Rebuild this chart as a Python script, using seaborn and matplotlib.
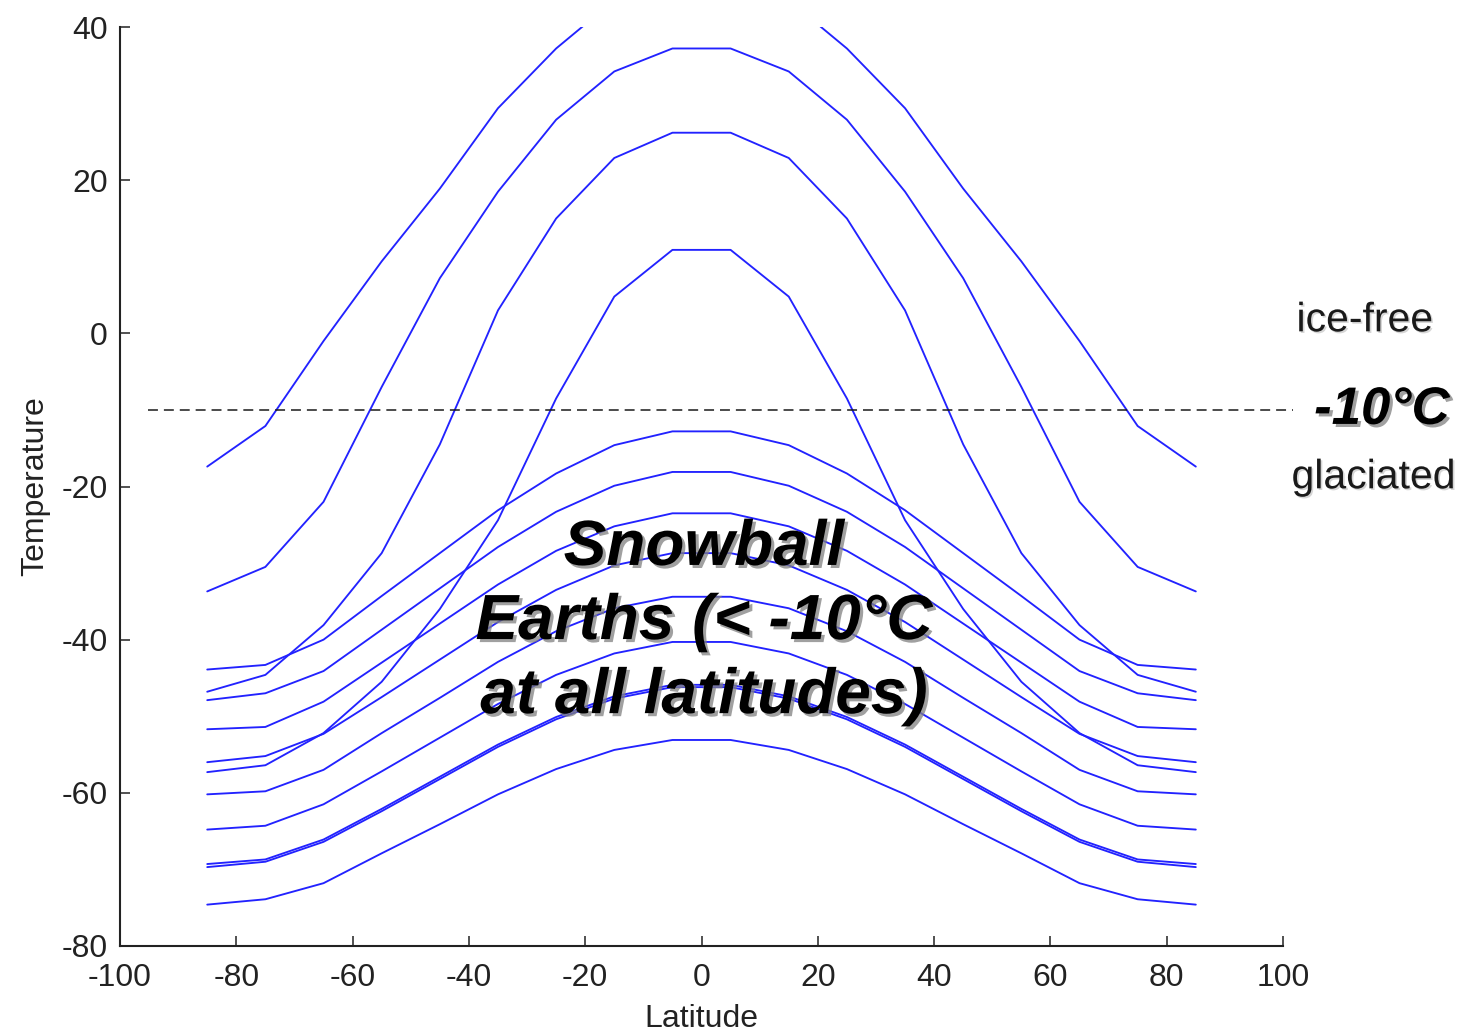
import numpy as np
import pandas as pd
import matplotlib
matplotlib.use("Agg")
import matplotlib.pyplot as plt
import matplotlib.patheffects as pe
import seaborn as sns

# Latitude grid of the energy-balance model (band centres)
latitudes = [-85, -75, -65, -55, -45, -35, -25, -15, -5,
             5, 15, 25, 35, 45, 55, 65, 75, 85]

# Equilibrium temperature profiles (deg C), one per solar forcing
warm_1 = [-17.4, -12.1, -1.0, 9.4, 18.9, 29.4, 37.2, 43.5, 46.5,
          46.5, 43.5, 37.2, 29.4, 18.9, 9.4, -1.0, -12.1, -17.4]
warm_2 = [-33.7, -30.5, -22.0, -7.0, 7.2, 18.5, 27.9, 34.2, 37.2,
          37.2, 34.2, 27.9, 18.5, 7.2, -7.0, -22.0, -30.5, -33.7]
warm_3 = [-46.8, -44.6, -38.1, -28.7, -14.5, 3.0, 15.0, 22.9, 26.2,
          26.2, 22.9, 15.0, 3.0, -14.5, -28.7, -38.1, -44.6, -46.8]
warm_4 = [-57.3, -56.4, -52.2, -45.5, -36.0, -24.4, -8.5, 4.8, 10.9,
          10.9, 4.8, -8.5, -24.4, -36.0, -45.5, -52.2, -56.4, -57.3]
snow_1 = [-43.9, -43.3, -40.0, -34.3, -28.7, -23.1, -18.3, -14.6, -12.8,
          -12.8, -14.6, -18.3, -23.1, -28.7, -34.3, -40.0, -43.3, -43.9]
snow_2 = [-47.9, -47.0, -44.1, -38.7, -33.3, -27.9, -23.3, -19.9, -18.1,
          -18.1, -19.9, -23.3, -27.9, -33.3, -38.7, -44.1, -47.0, -47.9]
snow_3 = [-51.7, -51.4, -48.1, -43.0, -37.9, -32.8, -28.4, -25.2, -23.5,
          -23.5, -25.2, -28.4, -32.8, -37.9, -43.0, -48.1, -51.4, -51.7]
snow_4 = [-56.0, -55.2, -52.3, -47.5, -42.6, -37.7, -33.5, -30.3, -28.7,
          -28.7, -30.3, -33.5, -37.7, -42.6, -47.5, -52.3, -55.2, -56.0]
snow_5 = [-60.2, -59.8, -57.0, -52.2, -47.6, -42.9, -38.9, -35.9, -34.4,
          -34.4, -35.9, -38.9, -42.9, -47.6, -52.2, -57.0, -59.8, -60.2]
snow_6 = [-64.8, -64.3, -61.5, -57.2, -52.8, -48.4, -44.6, -41.8, -40.3,
          -40.3, -41.8, -44.6, -48.4, -52.8, -57.2, -61.5, -64.3, -64.8]
snow_7 = [-69.3, -68.7, -66.1, -62.1, -57.9, -53.7, -50.1, -47.4, -45.9,
          -45.9, -47.4, -50.1, -53.7, -57.9, -62.1, -66.1, -68.7, -69.3]
snow_8 = [-69.7, -69.0, -66.4, -62.4, -58.2, -54.0, -50.4, -47.7, -46.2,
          -46.2, -47.7, -50.4, -54.0, -58.2, -62.4, -66.4, -69.0, -69.7]
snow_9 = [-74.6, -73.9, -71.8, -67.9, -64.1, -60.2, -56.9, -54.4, -53.1,
          -53.1, -54.4, -56.9, -60.2, -64.1, -67.9, -71.8, -73.9, -74.6]

profiles = {
    "warm_1": warm_1, "warm_2": warm_2, "warm_3": warm_3, "warm_4": warm_4,
    "snow_1": snow_1, "snow_2": snow_2, "snow_3": snow_3, "snow_4": snow_4,
    "snow_5": snow_5, "snow_6": snow_6, "snow_7": snow_7, "snow_8": snow_8,
    "snow_9": snow_9,
}

threshold = -10  # ice-line temperature

df = pd.concat(
    [pd.DataFrame({"Latitude": latitudes, "Temperature": temps, "run": name})
     for name, temps in profiles.items()],
    ignore_index=True,
)

sns.set_theme(style="ticks")
plt.rcParams["font.family"] = ["Liberation Sans", "DejaVu Sans"]
plt.rcParams["axes.unicode_minus"] = False

fig = plt.figure(figsize=(14.67, 10.36), dpi=100)
ax = fig.add_axes([0.0818, 0.0869, 0.7928, 0.887])

sns.lineplot(data=df, x="Latitude", y="Temperature", units="run",
             estimator=None, sort=False, color="#2222ff", linewidth=1.35,
             legend=False, ax=ax)

# ice / no-ice threshold
ax.plot([-95.2, 101.7], [threshold, threshold], color="#1a1a1a", lw=1.1,
        ls=(0, (6.5, 3.9)), clip_on=False, zorder=3)

ax.set_xlim(-100, 100)
ax.set_ylim(-80, 40)
ax.set_xticks(np.arange(-100, 101, 20))
ax.set_yticks(np.arange(-80, 41, 20))
ax.tick_params(direction="in", length=7.5, width=1.1, labelsize=23,
               color="#222222", labelcolor="#222222")
ax.tick_params(axis="x", pad=12)
ax.tick_params(axis="y", pad=9)
for side in ("top", "right"):
    ax.spines[side].set_visible(False)
for side in ("left", "bottom"):
    ax.spines[side].set_linewidth(1.5)
    ax.spines[side].set_color("#222222")

ax.set_xlabel("Latitude", fontsize=23, color="#222222", labelpad=8)
ax.set_ylabel("Temperature", fontsize=23, color="#222222", labelpad=8)

shadow_big = [pe.withSimplePatchShadow(offset=(2.2, -2.2),
                                       shadow_rgbFace="0.5", alpha=0.75)]
shadow_small = [pe.withSimplePatchShadow(offset=(1.2, -1.2),
                                         shadow_rgbFace="0.6", alpha=0.4)]

ax.text(0.4, -37.7, "Snowball\nEarths (< -10°C\nat all latitudes)",
        fontsize=46, fontweight="bold", fontstyle="italic", color="black",
        ha="center", va="center", multialignment="center", linespacing=1.3,
        path_effects=shadow_big, zorder=5)

ax.text(117.0, threshold, "-10°C", fontsize=38, fontweight="bold",
        fontstyle="italic", color="black", ha="center", va="center",
        clip_on=False, path_effects=shadow_big)
ax.text(114.1, 1.7, "ice-free", fontsize=29.5, color="#1a1a1a",
        ha="center", va="center", clip_on=False, path_effects=shadow_small)
ax.text(115.6, -18.8, "glaciated", fontsize=29.5, color="#1a1a1a",
        ha="center", va="center", clip_on=False, path_effects=shadow_small)

fig.savefig("out.png", dpi=100, facecolor="white")
